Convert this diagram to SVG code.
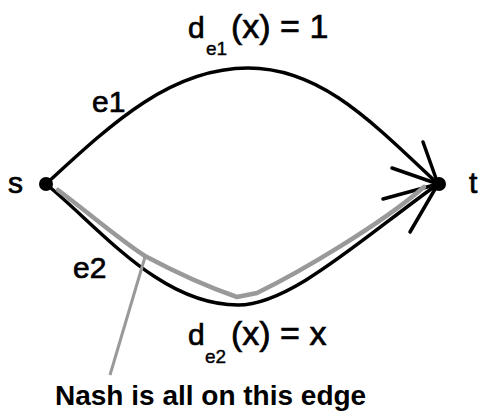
<svg xmlns="http://www.w3.org/2000/svg" width="482" height="413" viewBox="0 0 482 413">
<style>
text{font-family:"Liberation Sans",Arial,sans-serif;fill:#000}
.edge{fill:none;stroke:#000;stroke-width:3.5;stroke-linecap:round}
.nash{fill:none;stroke:#999;stroke-width:4.5;stroke-linecap:round;stroke-linejoin:round}
.ptr{fill:none;stroke:#999;stroke-width:3}
.lbl{font-size:30px;stroke:#000;stroke-width:0.7}
.big{font-size:34px;stroke:#000;stroke-width:0.7}
.sub{font-size:19px;stroke:#000;stroke-width:0.4}
</style>
<rect width="482" height="413" fill="#fff"/>
<g id="connectors">
<path id="e1" class="edge" d="M46,184 C110,125 170,68 248,68 C320,68 370,120 438,184"/>
<path id="e2" class="edge" d="M46,184 C100,228 160,305 238,305 C290,305 360,240 438,184"/>
<g id="arrowhead" class="edge">
<line x1="438" y1="184" x2="423" y2="142"/>
<line x1="438" y1="184" x2="392" y2="168"/>
<line x1="438" y1="184" x2="383" y2="199"/>
<line x1="438" y1="184" x2="410" y2="232"/>
</g>
<path id="nash-path" class="nash" d="M58,190 C90,214 120,240 145,256 C175,272 205,286 237,297 L257,293 C300,272 380,225 424,187"/>
<line id="pointer" class="ptr" x1="145" y1="257" x2="110" y2="375"/>
</g>
<g id="node-s">
<circle cx="46" cy="184" r="7" fill="#000"/>
<text class="lbl" x="8" y="193">s</text>
</g>
<g id="node-t">
<circle cx="439" cy="184" r="7" fill="#000"/>
<text class="lbl" x="469" y="193">t</text>
</g>
<g id="label-e1">
<text class="lbl" x="92" y="112">e1</text>
</g>
<g id="label-e2">
<text class="lbl" x="73" y="278">e2</text>
</g>
<g id="label-d1">
<text class="lbl" x="188" y="38">d</text>
<text class="sub" x="206" y="55">e1</text>
<text class="big" x="231" y="38">(x) = 1</text>
</g>
<g id="label-d2">
<text class="lbl" x="188" y="345">d</text>
<text class="sub" x="205" y="363">e2</text>
<text class="big" x="231" y="345">(x) = x</text>
</g>
<g id="label-nash">
<text x="55" y="405" font-size="28" font-weight="bold">Nash is all on this edge</text>
</g>
</svg>
